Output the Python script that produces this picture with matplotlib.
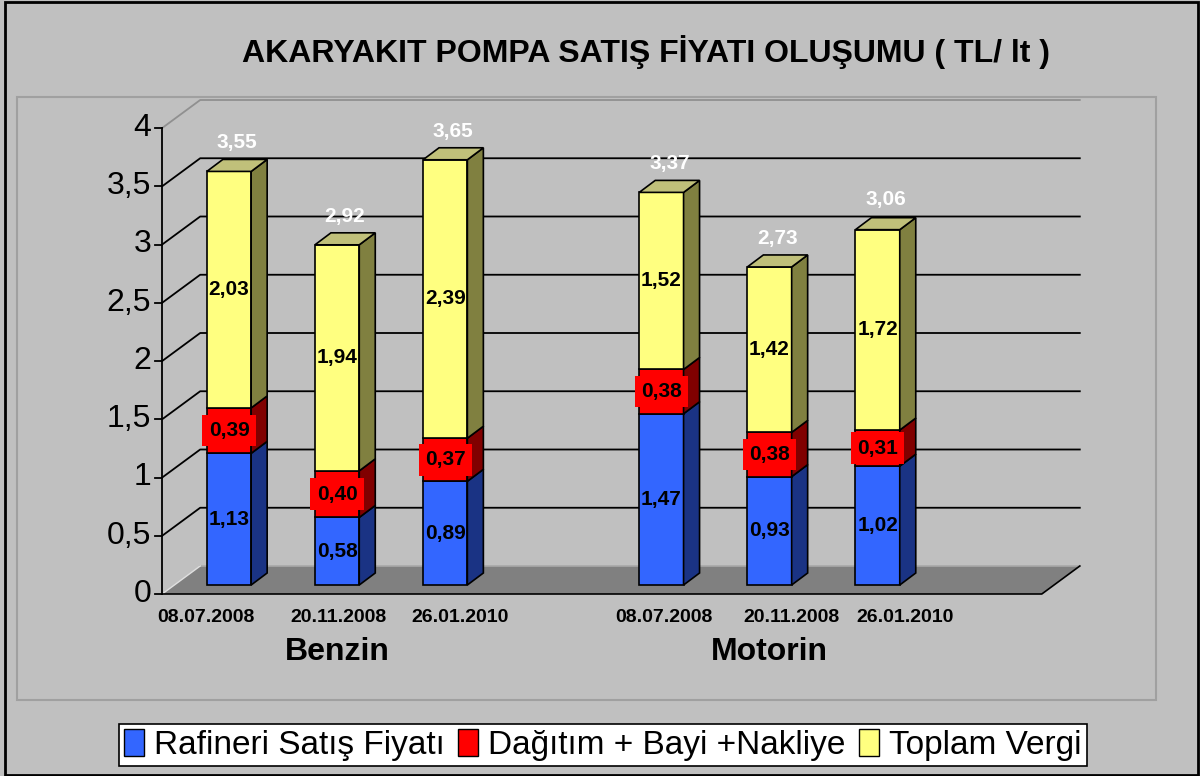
import numpy as np
import matplotlib
matplotlib.use("Agg")
import matplotlib.pyplot as plt
from matplotlib.patches import Polygon, Rectangle, Patch

plt.rcParams['font.family'] = ['Liberation Sans', 'DejaVu Sans']

# data
groups = ['Benzin', 'Motorin']
dates = ['08.07.2008', '20.11.2008', '26.01.2010', '08.07.2008', '20.11.2008', '26.01.2010']
rafineri = [1.13, 0.58, 0.89, 1.47, 0.93, 1.02]
dagitim = [0.39, 0.40, 0.37, 0.38, 0.38, 0.31]
vergi = [2.03, 1.94, 2.39, 1.52, 1.42, 1.72]
toplam = [3.55, 2.92, 3.65, 3.37, 2.73, 3.06]
series_names = ['Rafineri Satış Fiyatı', 'Dağıtım + Bayi +Nakliye', 'Toplam Vergi']
y_ticks = [0, 0.5, 1, 1.5, 2, 2.5, 3, 3.5, 4]

# layout / style
pos = np.array([0, 1, 2, 4, 5, 6])
date_shift = [-0.21, 0.01, 0.14, 0.02, 0.2, 0.25]
group_pos = [1, 5]
width = 0.41
front_col = ['#3366ff', '#ff0000', '#ffff80']
side_col = ['#1a3384', '#800000', '#808040']
top_col = '#c0c07a'
bg = '#c0c0c0'

W, H = 1200, 776
SX, SY = 108.1, 116.5          # pixels per unit
X0, Y0 = 229, 585              # pixel of (0, 0) on bar plane (from top)


def off(dx_px, dy_px):
    return dx_px / SX, dy_px / SY


fig = plt.figure(figsize=(12, 7.76), dpi=100, facecolor=bg)
ax = fig.add_axes([0, 0, 1, 1])
ax.set_xlim(-X0 / SX, (W - X0) / SX)
ax.set_ylim(-(H - Y0) / SY, Y0 / SY)
ax.axis('off')

# frames
fig.patches.append(Rectangle((5 / W, 1 - 775 / H), 1193 / W, 773 / H, transform=fig.transFigure,
                             fill=False, edgecolor='black', linewidth=2, zorder=0))
fig.patches.append(Rectangle((17 / W, 1 - 700 / H), 1139 / W, 603 / H, transform=fig.transFigure,
                             fill=False, edgecolor='#a0a0a0', linewidth=1.5, zorder=0))

# 3d geometry
bdx, bdy = off(16, 12)         # bar depth
fdx, fdy = off(-12, -9)        # front plane
kdx, kdy = off(26, 19)         # back plane
xl, xr = -0.507, 7.63

# walls and gridlines
for v in y_ticks[1:]:
    c = '#909090' if v == 4 else 'black'
    ax.plot([xl + fdx, xl + kdx, xr + kdx], [v + fdy, v + kdy, v + kdy], color=c, lw=1.3, zorder=1)

floor = [(xl + fdx, fdy), (xr + fdx, fdy), (xr + kdx, kdy), (xl + kdx, kdy)]
ax.add_patch(Polygon(floor, closed=True, facecolor='#808080', edgecolor='none', zorder=1))
ax.plot([xl + kdx, xr + kdx], [kdy, kdy], color='#a8a8a8', lw=1.2, zorder=1)
ax.plot([xl + fdx, xl + kdx], [fdy, kdy], color='#e0e0e0', lw=1, zorder=1)
ax.plot([xl + fdx, xr + fdx, xr + kdx], [fdy, fdy, kdy], color='black', lw=1.2, zorder=1)

# y axis
ax.plot([xl + fdx, xl + fdx], [fdy, 4 + fdy], color='black', lw=1.3, zorder=2)
tick_len = 7 / SX
for v in y_ticks:
    ax.plot([xl + fdx - tick_len, xl + fdx], [v + fdy, v + fdy], color='black', lw=1.3, zorder=2)
    ax.text(xl + fdx - 11 / SX, v + fdy, f'{v:g}'.replace('.', ','), ha='right', va='center',
            fontsize=23, color='black')

# bars
series = [rafineri, dagitim, vergi]
bottom = np.zeros(len(pos))
for i, vals in enumerate(series):
    vals = np.array(vals)
    ax.bar(pos, vals, width=width, bottom=bottom, color=front_col[i], edgecolor='black',
           linewidth=1.2, zorder=3)
    for p, b, v in zip(pos, bottom, vals):
        xr_ = p + width / 2
        side = [(xr_, b), (xr_ + bdx, b + bdy), (xr_ + bdx, b + v + bdy), (xr_, b + v)]
        ax.add_patch(Polygon(side, closed=True, facecolor=side_col[i], edgecolor='black',
                             linewidth=1.2, zorder=3))
        if i == len(series) - 1:
            t = b + v
            top = [(p - width / 2, t), (p + width / 2, t), (p + width / 2 + bdx, t + bdy),
                   (p - width / 2 + bdx, t + bdy)]
            ax.add_patch(Polygon(top, closed=True, facecolor=top_col, edgecolor='black',
                                 linewidth=1.2, zorder=3))
        box = dict(boxstyle='square,pad=0.3', facecolor='#ff0000', edgecolor='none') if i == 1 else None
        ax.text(p, b + v / 2, f'{v:.2f}'.replace('.', ','), ha='center', va='center',
                fontsize=15, fontweight='bold', color='black', bbox=box, zorder=5)
    bottom = bottom + vals

for p, t in zip(pos, toplam):
    ax.annotate(f'{t:.2f}'.replace('.', ','), (p + bdx / 2, t + bdy), xytext=(0, 12),
                textcoords='offset points', ha='center', va='center', fontsize=15,
                fontweight='bold', color='white', zorder=5)

# category labels
for p, s, d in zip(pos, date_shift, dates):
    ax.text(p + s, (Y0 - 617) / SY, d, ha='center', va='center', fontsize=14, fontweight='bold')
for g, gp in zip(groups, group_pos):
    ax.text(gp, (Y0 - 652) / SY, g, ha='center', va='center', fontsize=23, fontweight='bold')

# title
fig.text(646 / W, 1 - 52 / H, 'AKARYAKIT POMPA SATIŞ FİYATI OLUŞUMU ( TL/ lt )', ha='center',
         va='center', fontsize=23, fontweight='bold')

# legend
handles = [Patch(facecolor=c, edgecolor='black') for c in front_col]
leg = fig.legend(handles, series_names, loc='center', bbox_to_anchor=(603 / W, 1 - 745 / H), ncol=3,
                 frameon=True, fancybox=False, edgecolor='black', framealpha=1,
                 handlelength=0.6, handleheight=0.85, handletextpad=0.3, columnspacing=0.4,
                 borderpad=0.15, borderaxespad=0,
                 prop={'family': ['Liberation Sans Narrow', 'Liberation Sans'], 'size': 24})
leg.get_frame().set_linewidth(1.2)

fig.savefig('out.png', dpi=100, facecolor=bg)
